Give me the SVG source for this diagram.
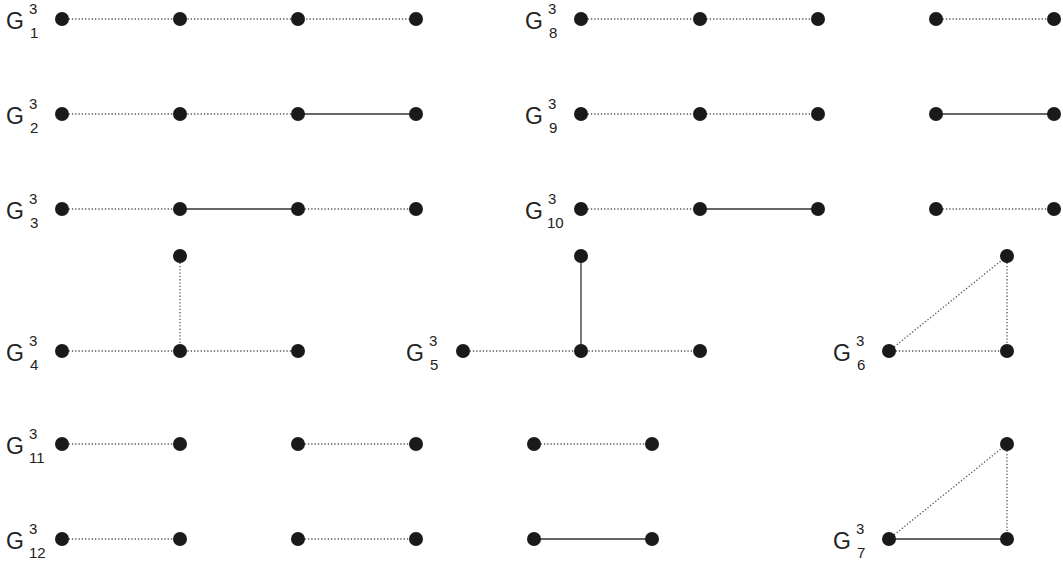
<svg xmlns="http://www.w3.org/2000/svg" width="1063" height="566" viewBox="0 0 1063 566">
<style>
.d{stroke:#555;stroke-width:1.3;stroke-dasharray:1.3 2;fill:none}
.s{stroke:#333;stroke-width:1.3;fill:none}
.n{fill:#1a1a1a}
.g{font-family:"Liberation Sans",Arial,sans-serif;font-size:23px;fill:#222}
.sp{font-family:"Liberation Sans",Arial,sans-serif;font-size:15px;fill:#222}
</style>
<rect width="1063" height="566" fill="#fff"/>
<g id="connectors">
<line class="d" x1="62" y1="19" x2="416" y2="19"/>
<line class="d" x1="581" y1="19" x2="818" y2="19"/>
<line class="d" x1="936" y1="19" x2="1054" y2="19"/>
<line class="d" x1="62" y1="114" x2="298" y2="114"/>
<line class="s" x1="298" y1="114" x2="416" y2="114"/>
<line class="d" x1="581" y1="114" x2="818" y2="114"/>
<line class="s" x1="936" y1="114" x2="1054" y2="114"/>
<line class="d" x1="62" y1="209" x2="180" y2="209"/>
<line class="s" x1="180" y1="209" x2="298" y2="209"/>
<line class="d" x1="298" y1="209" x2="416" y2="209"/>
<line class="d" x1="581" y1="209" x2="700" y2="209"/>
<line class="s" x1="700" y1="209" x2="818" y2="209"/>
<line class="d" x1="936" y1="209" x2="1054" y2="209"/>
<line class="d" x1="62" y1="351" x2="298" y2="351"/>
<line class="d" x1="180" y1="256" x2="180" y2="351"/>
<line class="d" x1="463" y1="351" x2="700" y2="351"/>
<line class="s" x1="581" y1="256" x2="581" y2="351"/>
<line class="d" x1="889" y1="351" x2="1007" y2="351"/>
<line class="d" x1="1007" y1="256" x2="1007" y2="351"/>
<line class="d" x1="889" y1="351" x2="1007" y2="256"/>
<line class="d" x1="62" y1="444" x2="180" y2="444"/>
<line class="d" x1="298" y1="444" x2="416" y2="444"/>
<line class="d" x1="534" y1="444" x2="652" y2="444"/>
<line class="d" x1="62" y1="539" x2="180" y2="539"/>
<line class="d" x1="298" y1="539" x2="416" y2="539"/>
<line class="s" x1="534" y1="539" x2="652" y2="539"/>
<line class="s" x1="889" y1="539" x2="1007" y2="539"/>
<line class="d" x1="1007" y1="444" x2="1007" y2="539"/>
<line class="d" x1="889" y1="539" x2="1007" y2="444"/>
</g>
<g id="G1"><text class="g" x="6" y="29">G</text><text class="sp" x="29" y="14">3</text><text class="sp" x="30" y="38">1</text>
<circle class="n" cx="62" cy="19" r="7"/><circle class="n" cx="180" cy="19" r="7"/><circle class="n" cx="298" cy="19" r="7"/><circle class="n" cx="416" cy="19" r="7"/></g>
<g id="G8"><text class="g" x="525" y="29">G</text><text class="sp" x="548" y="14">3</text><text class="sp" x="549" y="38">8</text>
<circle class="n" cx="581" cy="19" r="7"/><circle class="n" cx="700" cy="19" r="7"/><circle class="n" cx="818" cy="19" r="7"/><circle class="n" cx="936" cy="19" r="7"/><circle class="n" cx="1054" cy="19" r="7"/></g>
<g id="G2"><text class="g" x="6" y="124">G</text><text class="sp" x="29" y="109">3</text><text class="sp" x="30" y="133">2</text>
<circle class="n" cx="62" cy="114" r="7"/><circle class="n" cx="180" cy="114" r="7"/><circle class="n" cx="298" cy="114" r="7"/><circle class="n" cx="416" cy="114" r="7"/></g>
<g id="G9"><text class="g" x="525" y="124">G</text><text class="sp" x="548" y="109">3</text><text class="sp" x="549" y="133">9</text>
<circle class="n" cx="581" cy="114" r="7"/><circle class="n" cx="700" cy="114" r="7"/><circle class="n" cx="818" cy="114" r="7"/><circle class="n" cx="936" cy="114" r="7"/><circle class="n" cx="1054" cy="114" r="7"/></g>
<g id="G3"><text class="g" x="6" y="219">G</text><text class="sp" x="29" y="204">3</text><text class="sp" x="30" y="228">3</text>
<circle class="n" cx="62" cy="209" r="7"/><circle class="n" cx="180" cy="209" r="7"/><circle class="n" cx="298" cy="209" r="7"/><circle class="n" cx="416" cy="209" r="7"/></g>
<g id="G10"><text class="g" x="525" y="219">G</text><text class="sp" x="548" y="204">3</text><text class="sp" x="547" y="228">10</text>
<circle class="n" cx="581" cy="209" r="7"/><circle class="n" cx="700" cy="209" r="7"/><circle class="n" cx="818" cy="209" r="7"/><circle class="n" cx="936" cy="209" r="7"/><circle class="n" cx="1054" cy="209" r="7"/></g>
<g id="G4"><text class="g" x="6" y="361">G</text><text class="sp" x="29" y="346">3</text><text class="sp" x="30" y="370">4</text>
<circle class="n" cx="62" cy="351" r="7"/><circle class="n" cx="180" cy="351" r="7"/><circle class="n" cx="298" cy="351" r="7"/><circle class="n" cx="180" cy="256" r="7"/></g>
<g id="G5"><text class="g" x="406" y="361">G</text><text class="sp" x="429" y="346">3</text><text class="sp" x="430" y="370">5</text>
<circle class="n" cx="463" cy="351" r="7"/><circle class="n" cx="581" cy="351" r="7"/><circle class="n" cx="700" cy="351" r="7"/><circle class="n" cx="581" cy="256" r="7"/></g>
<g id="G6"><text class="g" x="833" y="361">G</text><text class="sp" x="856" y="346">3</text><text class="sp" x="857" y="370">6</text>
<circle class="n" cx="889" cy="351" r="7"/><circle class="n" cx="1007" cy="351" r="7"/><circle class="n" cx="1007" cy="256" r="7"/></g>
<g id="G11"><text class="g" x="6" y="454">G</text><text class="sp" x="29" y="439">3</text><text class="sp" x="29" y="463">11</text>
<circle class="n" cx="62" cy="444" r="7"/><circle class="n" cx="180" cy="444" r="7"/><circle class="n" cx="298" cy="444" r="7"/><circle class="n" cx="416" cy="444" r="7"/><circle class="n" cx="534" cy="444" r="7"/><circle class="n" cx="652" cy="444" r="7"/></g>
<g id="G12"><text class="g" x="6" y="549">G</text><text class="sp" x="29" y="534">3</text><text class="sp" x="29" y="558">12</text>
<circle class="n" cx="62" cy="539" r="7"/><circle class="n" cx="180" cy="539" r="7"/><circle class="n" cx="298" cy="539" r="7"/><circle class="n" cx="416" cy="539" r="7"/><circle class="n" cx="534" cy="539" r="7"/><circle class="n" cx="652" cy="539" r="7"/></g>
<g id="G7"><text class="g" x="833" y="549">G</text><text class="sp" x="856" y="534">3</text><text class="sp" x="857" y="558">7</text>
<circle class="n" cx="889" cy="539" r="7"/><circle class="n" cx="1007" cy="539" r="7"/><circle class="n" cx="1007" cy="444" r="7"/></g>
</svg>
